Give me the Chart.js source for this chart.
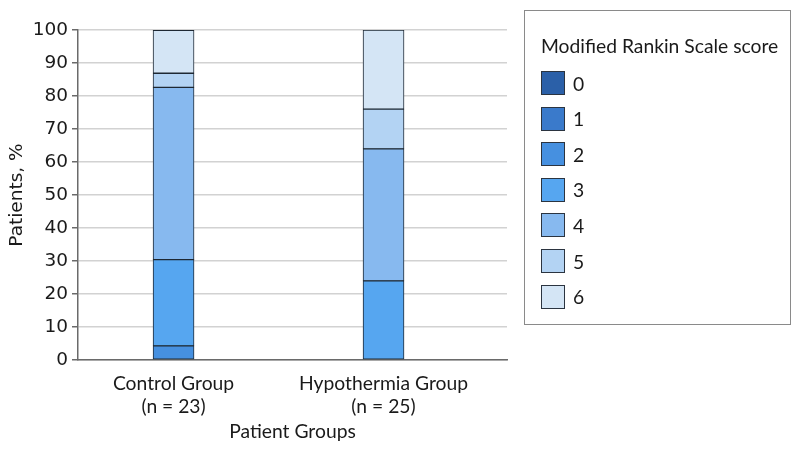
<!DOCTYPE html>
<html>
<head>
<meta charset="utf-8">
<script src="https://cdn.jsdelivr.net/npm/chart.js@4"></script>
<style>
  html, body { margin: 0; padding: 0; background: #fff; }
  #wrap { position: relative; width: 798px; height: 462px; }
  #legend {
    position: absolute; left: 524px; top: 10px; width: 267px; height: 315px;
    border: 1.5px solid #8a8a8a; box-sizing: border-box; font-family: Lato, sans-serif;
    color: #1a1a1a;
  }
  #legend .title { position: absolute; left: 16px; top: 23px; font-size: 19.3px; }
  #legend .item { position: absolute; left: 16px; height: 24px; display: flex; align-items: center; }
  #legend .sw { width: 22px; height: 22px; border: 1px solid #2b3440; }
  #legend .lab { margin-left: 8px; font-size: 19.3px; }
</style>
</head>
<body>
<div id="wrap">
  <canvas id="chart" width="798" height="462"></canvas>
  <div id="legend"></div>
</div>
<script>
// Modified Rankin Scale distribution by group (% of patients)
const groups = [['Control Group', '(n = 23)'], ['Hypothermia Group', '(n = 25)']];
const groupPos = [1, 2];
const scores = ['0', '1', '2', '3', '4', '5', '6'];
const colors = ['#2b60a8', '#3a7acb', '#4690e0', '#56a6f0', '#87b9ef', '#b3d3f3', '#d4e5f5'];
const controlPct = [null, null, 4.3, 26.1, 52.2, 4.3, 13.0];
const hypoPct = [null, null, null, 24, 40, 12, 24];
const yTicks = [0, 10, 20, 30, 40, 50, 60, 70, 80, 90, 100];

const datasets = scores.map((s, i) => ({
    label: s,
    data: [
        { x: groupPos[0], y: controlPct[i] },
        { x: groupPos[1], y: hypoPct[i] }
    ],
    backgroundColor: colors[i],
    borderColor: '#1e2833',
    borderWidth: 1,
    borderSkipped: false,
    barThickness: 41,
}));

const chart = new Chart(document.getElementById('chart').getContext('2d'), {
    type: 'bar',
    data: { datasets },
    options: {
        responsive: false,
        animation: false,
        layout: { padding: { top: 30, right: 291, bottom: 12, left: 0 } },
        plugins: { legend: { display: false }, tooltip: { enabled: false } },
        scales: {
            x: {
                type: 'linear',
                stacked: true,
                offset: false,
                bounds: 'data',
                min: 0.545,
                max: 2.588,
                afterBuildTicks: (scale) => { scale.ticks = groupPos.map((v) => ({ value: v })); },
                afterFit: (scale) => { scale.height = 90; },
                grid: { display: false },
                border: { color: '#6a6a6a', width: 1.5 },
                ticks: {
                    autoSkip: false,
                    maxRotation: 0,
                    padding: 5,
                    color: '#1a1a1a',
                    font: { family: 'Lato', size: 19.3, lineHeight: 1.15 },
                    callback: (v) => groups[groupPos.indexOf(v)] || ''
                },
                title: {
                    display: true,
                    text: 'Patient Groups',
                    color: '#1a1a1a',
                    font: { family: 'Lato', size: 19.3 },
                    padding: { top: 0, bottom: 7 }
                }
            },
            y: {
                stacked: true,
                min: 0,
                max: 100,
                afterBuildTicks: (scale) => { scale.ticks = yTicks.map((v) => ({ value: v })); },
                afterFit: (scale) => { scale.width = 78; },
                grid: { color: '#d2d2d2', lineWidth: 1.5, tickColor: '#6a6a6a', tickLength: 6 },
                border: { color: '#6a6a6a', width: 1.5 },
                ticks: {
                    padding: 4,
                    color: '#1a1a1a',
                    font: { family: 'DejaVu Sans', size: 18.5 }
                },
                title: {
                    display: true,
                    text: 'Patients, %',
                    color: '#1a1a1a',
                    font: { family: 'DejaVu Sans', size: 18.5 },
                    padding: { top: 6, bottom: 0 }
                }
            }
        }
    }
});

// HTML legend built from the chart datasets
const legend = document.getElementById('legend');
legend.innerHTML = '<div class="title">Modified Rankin Scale score</div>' +
    chart.data.datasets.map((d, i) =>
        `<div class="item" style="top:${60 + i * 35.6}px"><div class="sw" style="background:${d.backgroundColor}"></div><span class="lab">${d.label}</span></div>`
    ).join('');
</script>
</body>
</html>
